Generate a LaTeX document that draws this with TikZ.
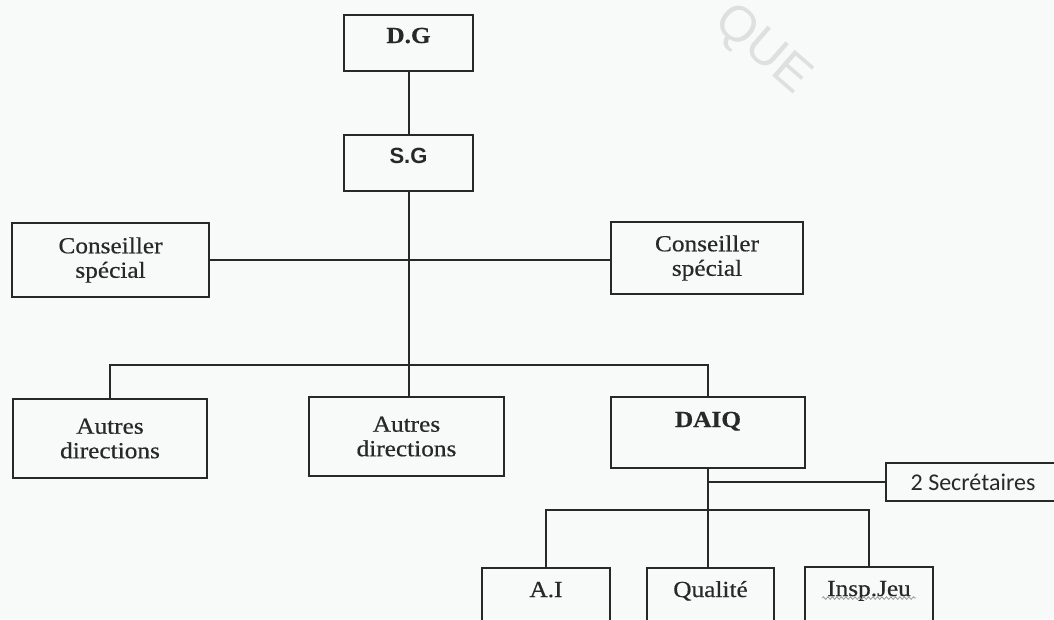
\documentclass[tikz,border=0pt]{standalone}
\usepackage{fontspec}
\setmainfont{Liberation Serif}[FakeBold=0.5, FakeStretch=1.1]
\newfontfamily\secfont{Carlito}
\newfontfamily\sgfont{Liberation Sans}
\usetikzlibrary{positioning,decorations.pathmorphing}
\definecolor{inkgray}{RGB}{40,40,40}
\definecolor{paper}{RGB}{248,250,250}

\tikzset{
  box/.style={draw=inkgray, line width=1.9pt, rectangle, inner sep=0pt, align=center,
    text=inkgray, font=\fontsize{23}{24.5}\selectfont},
  link/.style={draw=inkgray, line width=2pt},
  squig/.style={draw=gray!80, line width=0.8pt, decorate,
    decoration={snake, amplitude=1.3pt, segment length=4.5pt}},
}

\begin{document}
\begin{tikzpicture}[x=1pt,y=-1pt]
\clip (0,0) rectangle (1054,619);
\fill[paper] (0,0) rectangle (1054,619);
% filigrane
\node[text=gray!25, rotate=-41, font=\sgfont\fontsize{50}{50}\selectfont] (mark) at (762,50) {QUE};

% direction
\node[box, minimum width=129pt, minimum height=56pt, text height=28pt, text depth=28pt] (dg) at (408.5,43) {\bfseries D.G};
\node[box, minimum width=129pt, minimum height=56pt, text height=28pt, text depth=28pt] (sg) at (408.5,163) {\sgfont\fontsize{22}{22}\selectfont\bfseries S.G};
\node[box, minimum width=197pt, minimum height=74pt] (cons1) at (110.5,260) {Conseiller\\spécial};
\node[box, minimum width=192pt, minimum height=72pt] (cons2) at (707,258) {Conseiller\\spécial};

% directions
\node[box, minimum width=194pt, minimum height=79pt] (autres1) at (110,438.5) {Autres\\directions};
\node[box, minimum width=195pt, minimum height=79pt] (autres2) at (406.5,436.5) {Autres\\directions};
\node[box, minimum width=194pt, minimum height=71pt, text height=30pt, text depth=41pt] (daiq) at (708,432.5) {\bfseries DAIQ};
\node[box, minimum width=174pt, minimum height=38pt, font=\secfont\fontsize{24}{24}\selectfont] (sec) at (973,482) {2 Secrétaires};

% services
\node[box, minimum width=128pt, minimum height=82pt, text height=29pt, text depth=53pt] (ai) at (546,609) {A.I};
\node[box, minimum width=127pt, minimum height=82pt, text height=29pt, text depth=53pt] (quality) at (710.5,609) {Qualité};
\node[box, minimum width=128pt, minimum height=82pt, text height=29pt, text depth=53pt] (insp) at (869,608) {Insp.Jeu};
\draw[squig] ([xshift=-47pt,yshift=-32pt]insp.north) -- ([xshift=47pt,yshift=-32pt]insp.north);

\coordinate (bar) at (0,365);
\coordinate (bar2) at (708,510);

% liaisons
\draw[link] (dg) -- (sg);
\draw[link] (sg.south) -- (sg.south |- autres2.north);
\draw[link] (cons1.east) -- (cons1.east -| cons2.west);
\draw[link] (autres1.north) -- (autres1.north |- bar) -| (daiq.north);
\draw[link] (daiq.south) -- (daiq.south |- quality.north);
\draw[link] (ai.north) |- (bar2) -| (insp.north);
\draw[link] (daiq.south |- sec.west) -- (sec.west);
\end{tikzpicture}
\end{document}
